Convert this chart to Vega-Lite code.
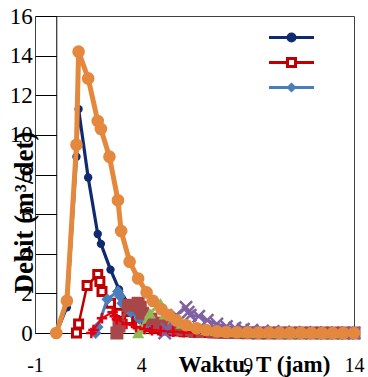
{
  "$schema": "https://vega.github.io/schema/vega-lite/v6.json",
  "width": 319,
  "height": 317,
  "autosize": "none",
  "padding": {"left": 35, "top": 16, "right": 14, "bottom": 44},
  "background": "white",
  "config": {
    "view": {"stroke": "#404040", "strokeWidth": 1},
    "font": "Liberation Serif",
    "legend": {
      "orient": "none",
      "legendX": 250,
      "legendY": 15,
      "symbolSize": 100,
      "symbolStrokeWidth": 3,
      "rowPadding": 5,
      "padding": 0,
      "labelFontSize": 8,
      "symbolOpacity": 1,
      "labelLimit": 1
    }
  },
  "data": {
    "values": [
      {"s": "a", "t": 0, "q": 0}, {"s": "a", "t": 0.5, "q": 1.3}, {"s": "a", "t": 0.95, "q": 8.9}, {"s": "a", "t": 1.05, "q": 11.3}, {"s": "a", "t": 1.5, "q": 7.85}, {"s": "a", "t": 1.95, "q": 5.0}, {"s": "a", "t": 2.1, "q": 4.5}, {"s": "a", "t": 2.55, "q": 3.2}, {"s": "a", "t": 2.95, "q": 2.2}, {"s": "a", "t": 3.4, "q": 1.45}, {"s": "a", "t": 3.85, "q": 0.95}, {"s": "a", "t": 4.25, "q": 0.65}, {"s": "a", "t": 4.6, "q": 0.45}, {"s": "a", "t": 4.95, "q": 0.3}, {"s": "a", "t": 5.3, "q": 0.2}, {"s": "a", "t": 5.65, "q": 0.14}, {"s": "a", "t": 6.1, "q": 0.09}, {"s": "a", "t": 6.6, "q": 0.06}, {"s": "a", "t": 7.05, "q": 0.04}, {"s": "a", "t": 7.55, "q": 0.03}, {"s": "a", "t": 8, "q": 0.02}, {"s": "a", "t": 8.5, "q": 0.01}, {"s": "a", "t": 9, "q": 0.01}, {"s": "a", "t": 9.5, "q": 0}, {"s": "a", "t": 10, "q": 0}, {"s": "a", "t": 10.5, "q": 0}, {"s": "a", "t": 11, "q": 0}, {"s": "a", "t": 11.5, "q": 0}, {"s": "a", "t": 12, "q": 0}, {"s": "a", "t": 12.5, "q": 0}, {"s": "a", "t": 13, "q": 0}, {"s": "a", "t": 13.5, "q": 0}, {"s": "a", "t": 14, "q": 0},
      {"s": "b", "t": 0.95, "q": 0}, {"s": "b", "t": 1.05, "q": 0.45}, {"s": "b", "t": 1.45, "q": 2.4}, {"s": "b", "t": 1.95, "q": 2.95}, {"s": "b", "t": 2.05, "q": 2.6}, {"s": "b", "t": 2.15, "q": 2.1}, {"s": "b", "t": 2.55, "q": 1.5}, {"s": "b", "t": 2.95, "q": 1.0}, {"s": "b", "t": 3.4, "q": 0.68}, {"s": "b", "t": 3.85, "q": 0.45}, {"s": "b", "t": 4.25, "q": 0.32}, {"s": "b", "t": 4.6, "q": 0.22}, {"s": "b", "t": 5, "q": 0.15}, {"s": "b", "t": 5.5, "q": 0.1}, {"s": "b", "t": 6, "q": 0.06}, {"s": "b", "t": 6.5, "q": 0.04}, {"s": "b", "t": 7, "q": 0.02}, {"s": "b", "t": 7.5, "q": 0.01}, {"s": "b", "t": 8, "q": 0}, {"s": "b", "t": 8.5, "q": 0}, {"s": "b", "t": 9, "q": 0}, {"s": "b", "t": 9.5, "q": 0}, {"s": "b", "t": 10, "q": 0}, {"s": "b", "t": 10.5, "q": 0}, {"s": "b", "t": 11, "q": 0}, {"s": "b", "t": 11.5, "q": 0}, {"s": "b", "t": 12, "q": 0}, {"s": "b", "t": 12.5, "q": 0}, {"s": "b", "t": 13, "q": 0}, {"s": "b", "t": 13.5, "q": 0}, {"s": "b", "t": 14, "q": 0},
      {"s": "c", "t": 1.85, "q": 0}, {"s": "c", "t": 1.95, "q": 0.3}, {"s": "c", "t": 2.4, "q": 1.7}, {"s": "c", "t": 2.9, "q": 2.1}, {"s": "c", "t": 3.0, "q": 1.85}, {"s": "c", "t": 3.1, "q": 1.5}, {"s": "c", "t": 3.5, "q": 1.05}, {"s": "c", "t": 3.9, "q": 0.72}, {"s": "c", "t": 4.3, "q": 0.5}, {"s": "c", "t": 4.65, "q": 0.35}, {"s": "c", "t": 5.05, "q": 0.24}, {"s": "c", "t": 5.5, "q": 0.16}, {"s": "c", "t": 6, "q": 0.1}, {"s": "c", "t": 6.5, "q": 0.07}, {"s": "c", "t": 7, "q": 0.04}, {"s": "c", "t": 7.5, "q": 0.03}, {"s": "c", "t": 8, "q": 0.02}, {"s": "c", "t": 8.5, "q": 0.01}, {"s": "c", "t": 9, "q": 0}, {"s": "c", "t": 9.5, "q": 0}, {"s": "c", "t": 10, "q": 0}, {"s": "c", "t": 10.5, "q": 0}, {"s": "c", "t": 11, "q": 0}, {"s": "c", "t": 11.5, "q": 0}, {"s": "c", "t": 12, "q": 0}, {"s": "c", "t": 12.5, "q": 0}, {"s": "c", "t": 13, "q": 0}, {"s": "c", "t": 13.5, "q": 0}, {"s": "c", "t": 14, "q": 0},
      {"s": "d", "t": 2.85, "q": 0}, {"s": "d", "t": 2.95, "q": 0.35}, {"s": "d", "t": 3.4, "q": 1.4}, {"s": "d", "t": 3.85, "q": 1.5}, {"s": "d", "t": 3.95, "q": 1.3}, {"s": "d", "t": 4.05, "q": 1.0}, {"s": "d", "t": 4.45, "q": 0.7}, {"s": "d", "t": 4.85, "q": 0.5}, {"s": "d", "t": 5.2, "q": 0.35}, {"s": "d", "t": 5.55, "q": 0.25}, {"s": "d", "t": 5.95, "q": 0.17}, {"s": "d", "t": 6.45, "q": 0.11}, {"s": "d", "t": 6.9, "q": 0.07}, {"s": "d", "t": 7.4, "q": 0.05}, {"s": "d", "t": 7.9, "q": 0.03}, {"s": "d", "t": 8.5, "q": 0.02}, {"s": "d", "t": 9, "q": 0.01}, {"s": "d", "t": 9.5, "q": 0}, {"s": "d", "t": 10, "q": 0}, {"s": "d", "t": 10.5, "q": 0}, {"s": "d", "t": 11, "q": 0}, {"s": "d", "t": 11.5, "q": 0}, {"s": "d", "t": 12, "q": 0}, {"s": "d", "t": 12.5, "q": 0}, {"s": "d", "t": 13, "q": 0}, {"s": "d", "t": 13.5, "q": 0}, {"s": "d", "t": 14, "q": 0},
      {"s": "e", "t": 3.85, "q": 0}, {"s": "e", "t": 3.95, "q": 0.2}, {"s": "e", "t": 4.4, "q": 1.0}, {"s": "e", "t": 4.9, "q": 1.5}, {"s": "e", "t": 5.0, "q": 1.25}, {"s": "e", "t": 5.1, "q": 0.95}, {"s": "e", "t": 5.5, "q": 0.68}, {"s": "e", "t": 5.9, "q": 0.48}, {"s": "e", "t": 6.3, "q": 0.34}, {"s": "e", "t": 6.65, "q": 0.24}, {"s": "e", "t": 7.05, "q": 0.17}, {"s": "e", "t": 7.5, "q": 0.11}, {"s": "e", "t": 8, "q": 0.07}, {"s": "e", "t": 8.5, "q": 0.05}, {"s": "e", "t": 9, "q": 0.03}, {"s": "e", "t": 9.5, "q": 0.02}, {"s": "e", "t": 10, "q": 0.01}, {"s": "e", "t": 10.5, "q": 0}, {"s": "e", "t": 11, "q": 0}, {"s": "e", "t": 11.5, "q": 0}, {"s": "e", "t": 12, "q": 0}, {"s": "e", "t": 12.5, "q": 0}, {"s": "e", "t": 13, "q": 0}, {"s": "e", "t": 13.5, "q": 0}, {"s": "e", "t": 14, "q": 0},
      {"s": "f", "t": 5.1, "q": 0}, {"s": "f", "t": 5.2, "q": 0.2}, {"s": "f", "t": 5.65, "q": 0.9}, {"s": "f", "t": 6.1, "q": 1.3}, {"s": "f", "t": 6.2, "q": 1.05}, {"s": "f", "t": 6.3, "q": 0.9}, {"s": "f", "t": 6.7, "q": 0.85}, {"s": "f", "t": 7.1, "q": 0.64}, {"s": "f", "t": 7.55, "q": 0.45}, {"s": "f", "t": 8, "q": 0.33}, {"s": "f", "t": 8.4, "q": 0.25}, {"s": "f", "t": 8.8, "q": 0.19}, {"s": "f", "t": 9.2, "q": 0.14}, {"s": "f", "t": 9.7, "q": 0.1}, {"s": "f", "t": 10.2, "q": 0.07}, {"s": "f", "t": 10.7, "q": 0.05}, {"s": "f", "t": 11.2, "q": 0.03}, {"s": "f", "t": 11.7, "q": 0.02}, {"s": "f", "t": 12.2, "q": 0.01}, {"s": "f", "t": 12.7, "q": 0}, {"s": "f", "t": 13.2, "q": 0}, {"s": "f", "t": 13.7, "q": 0}, {"s": "f", "t": 14, "q": 0},
      {"s": "g", "t": 1.65, "q": 0}, {"s": "g", "t": 1.75, "q": 0.15}, {"s": "g", "t": 2.15, "q": 0.75}, {"s": "g", "t": 2.65, "q": 1.05}, {"s": "g", "t": 2.75, "q": 0.85}, {"s": "g", "t": 2.85, "q": 0.7}, {"s": "g", "t": 3.3, "q": 0.45}, {"s": "g", "t": 3.75, "q": 0.3}, {"s": "g", "t": 4.15, "q": 0.2}, {"s": "g", "t": 4.5, "q": 0.14}, {"s": "g", "t": 4.9, "q": 0.1}, {"s": "g", "t": 5.5, "q": 0.06}, {"s": "g", "t": 6, "q": 0.04}, {"s": "g", "t": 6.5, "q": 0.02}, {"s": "g", "t": 7, "q": 0.01}, {"s": "g", "t": 7.5, "q": 0}, {"s": "g", "t": 8, "q": 0}, {"s": "g", "t": 9, "q": 0}, {"s": "g", "t": 10, "q": 0}, {"s": "g", "t": 11, "q": 0}, {"s": "g", "t": 12, "q": 0}, {"s": "g", "t": 13, "q": 0}, {"s": "g", "t": 14, "q": 0},
      {"s": "h", "t": 0, "q": 0}, {"s": "h", "t": 0.5, "q": 1.63}, {"s": "h", "t": 0.95, "q": 9.5}, {"s": "h", "t": 1.05, "q": 14.2}, {"s": "h", "t": 1.5, "q": 12.85}, {"s": "h", "t": 1.95, "q": 10.7}, {"s": "h", "t": 2.1, "q": 10.3}, {"s": "h", "t": 2.5, "q": 8.9}, {"s": "h", "t": 2.9, "q": 6.7}, {"s": "h", "t": 3.05, "q": 5.15}, {"s": "h", "t": 3.45, "q": 3.6}, {"s": "h", "t": 3.85, "q": 2.75}, {"s": "h", "t": 4.25, "q": 2.05}, {"s": "h", "t": 4.55, "q": 1.62}, {"s": "h", "t": 4.95, "q": 1.2}, {"s": "h", "t": 5.3, "q": 0.9}, {"s": "h", "t": 5.65, "q": 0.64}, {"s": "h", "t": 6.1, "q": 0.4}, {"s": "h", "t": 6.6, "q": 0.24}, {"s": "h", "t": 7.05, "q": 0.15}, {"s": "h", "t": 7.55, "q": 0.08}, {"s": "h", "t": 8, "q": 0.05}, {"s": "h", "t": 8.5, "q": 0.04}, {"s": "h", "t": 9, "q": 0.03}, {"s": "h", "t": 9.5, "q": 0.02}, {"s": "h", "t": 10, "q": 0.02}, {"s": "h", "t": 10.5, "q": 0.01}, {"s": "h", "t": 11, "q": 0.01}, {"s": "h", "t": 11.5, "q": 0.01}, {"s": "h", "t": 12, "q": 0}, {"s": "h", "t": 12.5, "q": 0}, {"s": "h", "t": 13, "q": 0}, {"s": "h", "t": 13.5, "q": 0}, {"s": "h", "t": 14, "q": 0}
    ]
  },
  "encoding": {
    "x": {
      "field": "t", "type": "quantitative",
      "scale": {"domain": [-1, 14], "nice": false, "zero": false},
      "axis": {
        "title": "Waktu, T (jam)",
        "values": [-1, 4, 9, 14],
        "labelExpr": "'' + datum.value",
        "ticks": false, "tickSize": 0,
        "labelPadding": 22, "labelFont": "Liberation Serif", "labelFontSize": 20, "labelColor": "black",
        "labelFlush": false, "labelOverlap": false,
        "domainColor": "black", "domainWidth": 1, "grid": false,
        "titleFont": "Liberation Serif", "titleFontSize": 23, "titleFontWeight": "bold", "titleColor": "black",
        "titleX": 219, "titleY": 38, "titleAlign": "center", "titleBaseline": "alphabetic"
      }
    },
    "y": {
      "field": "q", "type": "quantitative",
      "scale": {"domain": [0, 16], "nice": false},
      "axis": {
        "title": "Debit (m³/det)",
        "values": [0, 2, 4, 6, 8, 10, 12, 14, 16],
        "offset": -21.27,
        "tickSize": 21, "tickColor": "black", "tickWidth": 1,
        "labelPadding": 3, "labelFont": "Liberation Serif", "labelFontSize": 23, "labelColor": "black",
        "labelFlush": false, "labelOverlap": false,
        "domainColor": "black", "domainWidth": 1, "grid": false,
        "titleFont": "Liberation Serif", "titleFontSize": 27, "titleFontWeight": "bold", "titleColor": "black",
        "titleAngle": 270, "titleX": -32, "titleY": 196, "titleAlign": "center", "titleBaseline": "middle"
      }
    }
  },
  "layer": [
    {"transform": [{"filter": "datum.s=='a'"}], "mark": {"type": "line", "color": "#0F2A6E", "strokeWidth": 3.2, "strokeJoin": "round"}, "encoding": {}},
    {"transform": [{"filter": "datum.s=='a'"}], "mark": {"type": "point", "shape": "circle", "size": 70, "filled": true, "color": "#0F2A6E", "opacity": 1}},
    {"transform": [{"filter": "datum.s=='b'"}], "mark": {"type": "line", "color": "#C00000", "strokeWidth": 2.5, "strokeJoin": "round"}, "encoding": {}},
    {"transform": [{"filter": "datum.s=='b'"}], "mark": {"type": "point", "shape": "square", "size": 64, "filled": false, "fill": "white", "stroke": "#C00000", "strokeWidth": 3, "opacity": 1}},
    {"transform": [{"filter": "datum.s=='c'"}], "mark": {"type": "line", "color": "#4A7EBB", "strokeWidth": 3, "strokeJoin": "round"}, "encoding": {}},
    {"transform": [{"filter": "datum.s=='c'"}], "mark": {"type": "point", "shape": "diamond", "size": 140, "filled": true, "color": "#4A7EBB", "opacity": 1}},
    {"transform": [{"filter": "datum.s=='d'"}], "mark": {"type": "line", "color": "#A8474A", "strokeWidth": 3, "strokeJoin": "round"}, "encoding": {}},
    {"transform": [{"filter": "datum.s=='d'"}], "mark": {"type": "point", "shape": "square", "size": 169, "filled": true, "color": "#A8474A", "opacity": 1}},
    {"transform": [{"filter": "datum.s=='e'"}], "mark": {"type": "line", "color": "#92B956", "strokeWidth": 3, "strokeJoin": "round"}, "encoding": {}},
    {"transform": [{"filter": "datum.s=='e'"}], "mark": {"type": "point", "shape": "triangle-up", "size": 150, "filled": true, "color": "#92B956", "opacity": 1}},
    {"transform": [{"filter": "datum.s=='f'"}], "mark": {"type": "line", "color": "#7F61A3", "strokeWidth": 3, "strokeJoin": "round"}, "encoding": {}},
    {"transform": [{"filter": "datum.s=='f'"}], "mark": {"type": "point", "shape": "M-1,-1L1,1M-1,1L1,-1", "size": 150, "filled": false, "stroke": "#7F61A3", "strokeWidth": 2.5, "opacity": 1}},
    {"transform": [{"filter": "datum.s=='g'"}], "mark": {"type": "line", "color": "#E00010", "strokeWidth": 2, "strokeJoin": "round"}, "encoding": {}},
    {"transform": [{"filter": "datum.s=='g'"}], "mark": {"type": "point", "shape": "M-1,0L1,0M0,-1L0,1", "size": 110, "filled": false, "stroke": "#E00010", "strokeWidth": 2.5, "opacity": 1}},
    {"transform": [{"filter": "datum.s=='h'"}], "mark": {"type": "line", "color": "#E4883D", "strokeWidth": 5, "strokeJoin": "round"}, "encoding": {}},
    {"transform": [{"filter": "datum.s=='h'"}], "mark": {"type": "point", "shape": "circle", "size": 160, "filled": true, "color": "#E4883D", "opacity": 1}},
    {
      "transform": [{"filter": "(datum.s=='a'||datum.s=='b'||datum.s=='c') && datum.t>=13.9"}],
      "mark": {"type": "point", "filled": true, "opacity": 0},
      "encoding": {
        "shape": {"field": "s", "type": "nominal", "scale": {"domain": ["a", "b", "c"], "range": ["M-4.5,0H4.5M0.7,0A0.7,0.7,0,1,1,-0.7,0A0.7,0.7,0,1,1,0.7,0Z", "M-4.5,0H-0.8M0.8,0H4.5M-0.8,-0.8H0.8V0.8H-0.8Z", "M-4.5,0H4.5M0,-0.6L0.6,0L0,0.6L-0.6,0Z"]}, "legend": {"title": null, "labelExpr": "''"}},
        "fill": {"field": "s", "type": "nominal", "scale": {"domain": ["a", "b", "c"], "range": ["#0F2A6E", "white", "#4A7EBB"]}, "legend": {"title": null, "labelExpr": "''"}},
        "stroke": {"field": "s", "type": "nominal", "scale": {"domain": ["a", "b", "c"], "range": ["#0F2A6E", "#C00000", "#4A7EBB"]}, "legend": {"title": null, "labelExpr": "''"}}
      }
    }
  ]
}
